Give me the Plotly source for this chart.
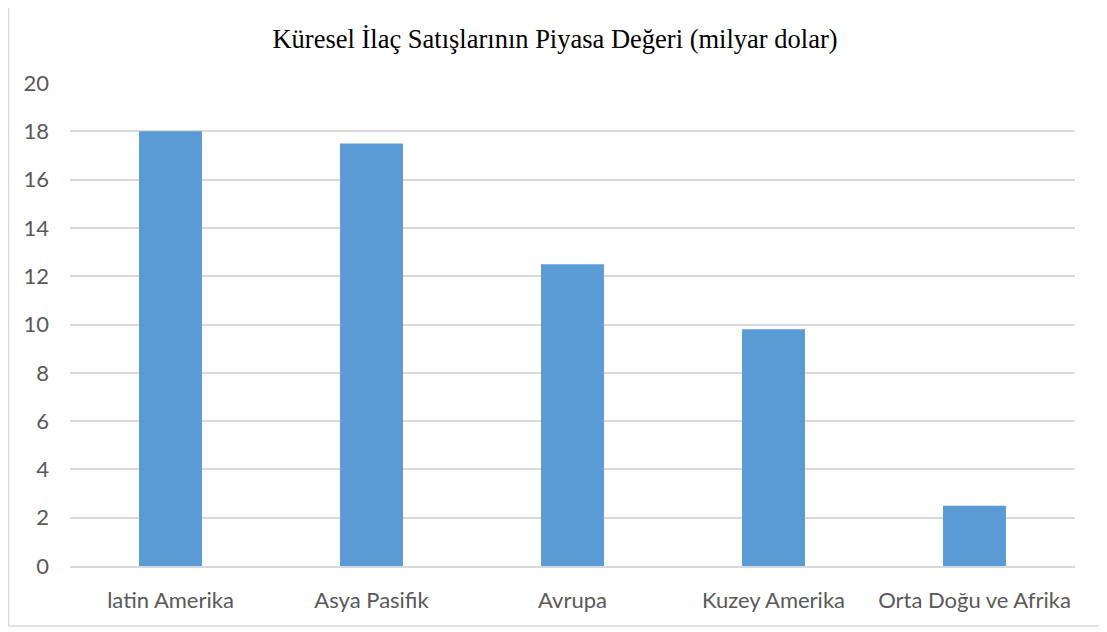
import plotly.graph_objects as go

categories = ["latin Amerika", "Asya Pasifik", "Avrupa", "Kuzey Amerika", "Orta Doğu ve Afrika"]
values = [18, 17.5, 12.5, 9.8, 2.5]
y_ticks = [0, 2, 4, 6, 8, 10, 12, 14, 16, 18, 20]
title_text = "Küresel İlaç Satışlarının Piyasa Değeri (milyar dolar)"

fig = go.Figure(go.Bar(x=categories, y=values, marker=dict(color="#5b9bd5", line=dict(width=0)),
                       hoverinfo="x+y"))

# figure is placed at (8, 8) in the page by the default body margin
W, H = 1099, 624
l, r, t, b = 62, 32, 75, 66
pw, ph = W - l - r, H - t - b

def px(x):
    return (x - l) / pw

def py(y):
    return (H - b - y) / ph

border_path = "M {x0} {y0} L {x0} {y1} L {x2} {y1} L {x2} {y0}".format(
    x0=px(0.5), y0=py(-5), y1=py(618), x2=px(1096))

fig.update_layout(
    width=W, height=H,
    margin=dict(l=l, r=r, t=t, b=b),
    paper_bgcolor="white", plot_bgcolor="white",
    bargap=0.687,
    showlegend=False,
    title=dict(text=title_text, x=547 / W, xref="container", xanchor="center", y=1 - 31 / H, yanchor="middle",
               font=dict(family="Liberation Serif", size=26.5, color="#000000")),
    xaxis=dict(showgrid=False, showline=True, linecolor="#d9d9d9", linewidth=1.5, ticks="",
               tickfont=dict(family="Lato, Open Sans", size=22, color="#595959"), ticklabelstandoff=14),
    yaxis=dict(range=[0, 20], tickvals=y_ticks, showgrid=True, gridcolor="#d9d9d9", gridwidth=1.5,
               zeroline=False, showline=False, ticks="",
               tickfont=dict(family="Lato, Open Sans", size=22, color="#595959"), ticklabelstandoff=20),
    shapes=[dict(type="path", xref="paper", yref="paper", path=border_path,
                 line=dict(color="#d9d9d9", width=1.5), layer="below")],
)

fig.write_html("out.html")
